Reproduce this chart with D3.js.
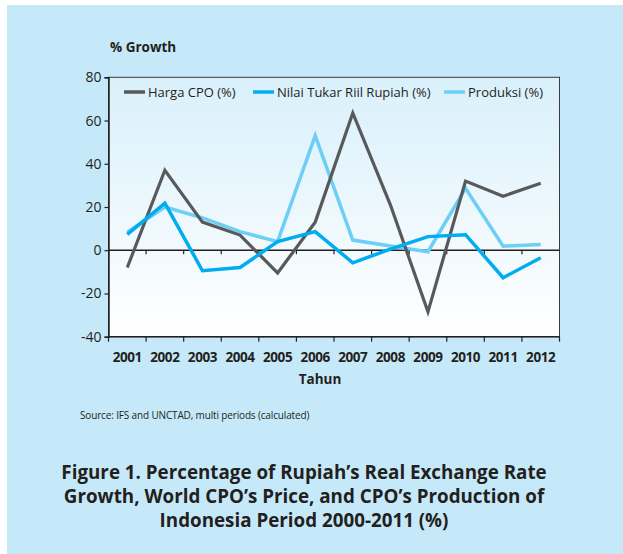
<!DOCTYPE html>
<html><head><meta charset="utf-8">
<script src="https://cdn.jsdelivr.net/npm/d3@7"></script>
<style>
html,body{margin:0;padding:0;background:#fff;}
svg{display:block;}
text{font-family:"Open Sans",sans-serif;fill:#231f20;}
</style></head><body>
<svg id="chart" width="623" height="554"></svg>
<script>
const years = ["2001","2002","2003","2004","2005","2006","2007","2008","2009","2010","2011","2012"];
const hargaCPO = [-8, 37, 13, 7, -10.5, 13, 63.5, 21, -28.5, 32, 25, 31];
const nilaiTukar = [7.3, 21.8, -9.5, -8, 4, 8.6, -5.8, 0.5, 6.3, 7.2, -12.7, -3.5];
const produksi = [8.3, 20, 15, 8.6, 4, 53, 4.7, 2, -0.7, 28.6, 1.9, 2.7];
const yTicks = [80, 60, 40, 20, 0, -20, -40];
const seriesNames = ["Harga CPO (%)", "Nilai Tukar Riil Rupiah (%)", "Produksi (%)"];
const seriesColors = ["#58595b", "#00aeef", "#6dcff6"];

(function(){
const svg = d3.select("#chart");
svg.append("rect").attr("x",7).attr("y",5).attr("width",616).attr("height",549).attr("fill","#c6e9f9");

const pL = 108.5, pR = 559.5, pT = 77.3, pB = 336.7;
const x = d3.scaleBand().domain(years).range([pL, pR]);
const y = d3.scaleLinear().domain([-40, 80]).range([pB, pT]);

const defs = svg.append("defs");
const grad = defs.append("linearGradient").attr("id","pg").attr("x1",0).attr("y1",0).attr("x2",0).attr("y2",1);
grad.append("stop").attr("offset","0%").attr("stop-color","#d9f0fb");
grad.append("stop").attr("offset","100%").attr("stop-color","#ffffff");
svg.append("rect").attr("x",pL).attr("y",pT).attr("width",pR-pL).attr("height",pB-pT)
  .attr("fill","url(#pg)").attr("stroke","#3a3a3a").attr("stroke-width",1);

// y axis
const yAxis = svg.append("g").attr("transform",`translate(${pL},0)`)
  .call(d3.axisLeft(y).tickValues(yTicks).tickSize(4).tickPadding(3).tickFormat(d=>String(d)));
yAxis.select(".domain").attr("stroke","#231f20").attr("stroke-width",1.5);
yAxis.selectAll(".tick line").attr("stroke","#231f20").attr("stroke-width",1.2);
yAxis.selectAll("text").style("font-size","14px").attr("fill","#231f20").style("font-family","'Open Sans',sans-serif");

// bottom axis with ticks at band boundaries
const bAxis = svg.append("g").attr("transform",`translate(0,${pB})`);
bAxis.append("line").attr("x1",pL).attr("x2",pR).attr("stroke","#231f20").attr("stroke-width",1.5);
const bounds = years.map(d => x(d)).concat([x(years[years.length-1]) + x.bandwidth()]);
bAxis.selectAll("line.tk").data(bounds).join("line").attr("class","tk")
  .attr("x1",d=>d).attr("x2",d=>d).attr("y1",0).attr("y2",5).attr("stroke","#231f20").attr("stroke-width",1.2);
bAxis.selectAll("text").data(years).join("text")
  .attr("x",d=>x(d)+x.bandwidth()/2).attr("y",25).attr("text-anchor","middle")
  .style("font-size","13.5px").style("font-weight","bold").style("letter-spacing","-0.4px").text(d=>d);

// zero line
const zAxis = svg.append("g").attr("transform",`translate(0,${y(0)})`);
zAxis.append("line").attr("x1",pL).attr("x2",pR).attr("stroke","#231f20").attr("stroke-width",1.3);
zAxis.selectAll("line.tk").data(bounds.slice(1,-1)).join("line").attr("class","tk")
  .attr("x1",d=>d).attr("x2",d=>d).attr("y1",0).attr("y2",4).attr("stroke","#231f20").attr("stroke-width",1.2);

// lines
const line = d3.line().x((d,i)=>x(years[i])+x.bandwidth()/2).y(d=>y(d));
const allSeries = [hargaCPO, nilaiTukar, produksi];
const widths = [3.2, 3.5, 3.5];
[2,0,1].forEach(k=>{
  svg.append("path").datum(allSeries[k]).attr("d",line).attr("fill","none")
    .attr("stroke",seriesColors[k]).attr("stroke-width",widths[k]).attr("stroke-linejoin","miter");
});

// legend
const legX = [124, 253, 444];
const lg = svg.append("g");
seriesNames.forEach((n,i)=>{
  lg.append("line").attr("x1",legX[i]).attr("x2",legX[i]+21).attr("y1",92).attr("y2",92)
    .attr("stroke",seriesColors[i]).attr("stroke-width",3.5);
  lg.append("text").attr("x",legX[i]+24).attr("y",96.5).style("font-size","13px").text(n);
});

// labels
svg.append("text").attr("x",110).attr("y",52).style("font-size","13.5px").style("font-weight","bold").text("% Growth");
svg.append("text").attr("x",320).attr("y",384).attr("text-anchor","middle").style("font-size","13.5px").style("font-weight","bold").text("Tahun");
svg.append("text").attr("x",80).attr("y",419).style("font-size","10px").style("letter-spacing","-0.15px").text("Source: IFS and UNCTAD, multi periods (calculated)");
const titleLines = ["Figure 1. Percentage of Rupiah\u2019s Real Exchange Rate","Growth, World CPO\u2019s Price, and CPO\u2019s Production of","Indonesia Period 2000-2011 (%)"];
titleLines.forEach((t,i)=>{
  svg.append("text").attr("x",304).attr("y",479+i*24).attr("text-anchor","middle")
    .style("font-size","18.8px").style("font-weight","bold").text(t);
});
})();
</script>
</body></html>
